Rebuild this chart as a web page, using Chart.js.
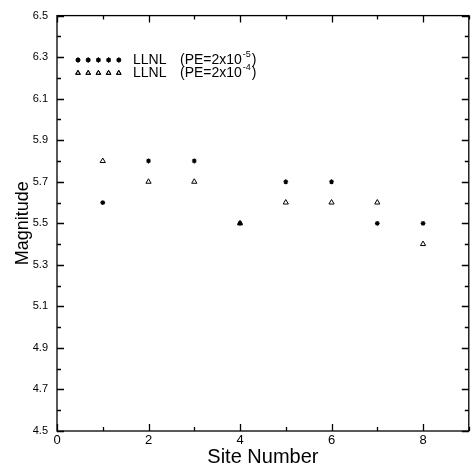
<!DOCTYPE html>
<html>
<head>
<meta charset="utf-8">
<script src="https://cdn.jsdelivr.net/npm/chart.js@4.4.1/dist/chart.umd.min.js"></script>
<style>
  html, body { margin: 0; padding: 0; background: #fff; overflow: hidden; }
  #wrap { width: 474px; height: 471px; }
</style>
</head>
<body>
<div id="wrap"><canvas id="chart"></canvas></div>
<script>
// site numbers and magnitudes
const sites = [1, 2, 3, 4, 5, 6, 7, 8];
const pe5 = [5.6, 5.8, 5.8, 5.5, 5.7, 5.7, 5.5, 5.5];
const pe4 = [5.8, 5.7, 5.7, 5.5, 5.6, 5.6, 5.6, 5.4];
const seriesNames = ["LLNL", "LLNL"];
const peLabels = ["(PE=2x10", "(PE=2x10"];
const peExps = ["-5", "-4"];

const FONT = "'Liberation Sans', Arial, sans-serif";

// frame, inward ticks and the legend
const framePlugin = {
  id: "frame",
  afterDraw(chart) {
    const ctx = chart.ctx;
    const a = chart.chartArea;
    const x = chart.scales.x, y = chart.scales.y;
    ctx.save();
    ctx.strokeStyle = "#000";
    ctx.lineWidth = 1.3;
    ctx.strokeRect(a.left, a.top, a.right - a.left, a.bottom - a.top);

    // y ticks every 0.1, longer every 0.2
    for (let i = 0; i <= 20; i++) {
      const v = 4.5 + i * 0.1;
      const py = Math.round(y.getPixelForValue(v)) + 0.5;
      const len = i % 2 === 0 ? 7 : 4;
      ctx.beginPath();
      ctx.moveTo(a.left, py); ctx.lineTo(a.left + len, py);
      ctx.moveTo(a.right, py); ctx.lineTo(a.right - len, py);
      ctx.stroke();
    }
    // x ticks every 1, longer every 2
    for (let v = 0; v <= 9; v++) {
      const px = Math.round(x.getPixelForValue(v)) + 0.5;
      const len = v % 2 === 0 ? 7 : 4;
      ctx.beginPath();
      ctx.moveTo(px, a.bottom); ctx.lineTo(px, a.bottom - len);
      ctx.moveTo(px, a.top); ctx.lineTo(px, a.top + len);
      ctx.stroke();
    }

    // legend
    const rows = [
      { y: 60, style: "star" },
      { y: 73, style: "triangle" }
    ];
    rows.forEach((r, i) => {
      for (let k = 0; k < 5; k++) {
        const mx = 78 + k * 10.2;
        ctx.fillStyle = "#fff";
        if (r.style === "star") {
          ctx.lineWidth = 1.2;
          Chart.helpers.drawPoint(ctx, { pointStyle: "star", radius: 2.4, borderWidth: 1.2 }, mx, r.y);
        } else {
          ctx.lineWidth = 1;
          Chart.helpers.drawPoint(ctx, { pointStyle: "triangle", radius: 2.6, borderWidth: 1 }, mx, r.y);
        }
        ctx.stroke();
      }
      ctx.fillStyle = "#000";
      ctx.font = "14px " + FONT;
      ctx.textBaseline = "middle";
      ctx.textAlign = "left";
      ctx.fillText(seriesNames[i], 133, r.y);
      ctx.fillText(peLabels[i], 180, r.y);
      const w = ctx.measureText(peLabels[i]).width;
      ctx.font = "9px " + FONT;
      ctx.fillText(peExps[i], 180 + w + 1, r.y - 5);
      const w2 = ctx.measureText(peExps[i]).width;
      ctx.font = "14px " + FONT;
      ctx.fillText(")", 180 + w + 1 + w2 + 1, r.y);
    });
    ctx.restore();
  }
};

new Chart(document.getElementById("chart"), {
  type: "scatter",
  data: {
    datasets: [
      {
        label: "LLNL (PE=2x10^-5)",
        data: sites.map((s, i) => ({ x: s, y: pe5[i] })),
        pointStyle: "star",
        pointRadius: 2.4,
        borderWidth: 1.2,
        borderColor: "#000",
        backgroundColor: "#000"
      },
      {
        label: "LLNL (PE=2x10^-4)",
        data: sites.map((s, i) => ({ x: s, y: pe4[i] })),
        pointStyle: "triangle",
        pointRadius: 3,
        borderWidth: 1,
        borderColor: "#000",
        backgroundColor: "rgba(255,255,255,0)"
      }
    ]
  },
  options: {
    responsive: true,
    maintainAspectRatio: false,
    animation: false,
    events: [],
    layout: { padding: { top: 12, right: 1, left: 0, bottom: 0 } },
    plugins: { legend: { display: false }, tooltip: { enabled: false } },
    scales: {
      x: {
        type: "linear",
        min: 0,
        max: 9,
        grid: { display: false, drawTicks: false },
        border: { display: false },
        ticks: {
          stepSize: 2,
          color: "#000",
          font: { family: FONT, size: 13 },
          padding: 2,
          callback: v => (v % 2 === 0 && v <= 8 ? String(v) : "")
        },
        title: {
          display: true,
          text: "Site Number",
          color: "#000",
          font: { family: FONT, size: 20 },
          padding: { top: 0, bottom: 2 }
        },
        afterFit: s => { s.height = 40; }
      },
      y: {
        min: 4.5,
        max: 6.5,
        grid: { display: false, drawTicks: false },
        border: { display: false },
        ticks: {
          stepSize: 0.2,
          color: "#000",
          font: { family: FONT, size: 11 },
          padding: 9,
          callback: v => v.toFixed(1)
        },
        title: {
          display: true,
          text: "Magnitude",
          color: "#000",
          font: { family: FONT, size: 18 },
          padding: { top: 12, bottom: 0 }
        },
        afterFit: s => { s.width = 57; }
      }
    }
  },
  plugins: [framePlugin]
});
</script>
</body>
</html>
